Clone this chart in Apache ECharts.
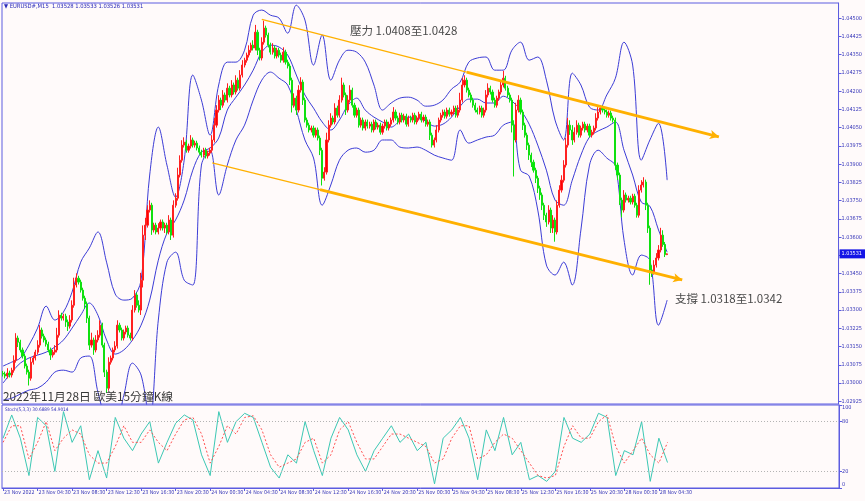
<!DOCTYPE html>
<html>
<head>
<meta charset="utf-8">
<script src="https://cdn.jsdelivr.net/npm/echarts@6/dist/echarts.min.js"></script>
<style>
html,body{margin:0;padding:0;background:#fffafa;}
#c{width:865px;height:501px;}
</style>
</head>
<body>
<div id="c"></div>
<script>
// ---------- DATA ----------
const tickLabels = ['23 Nov 2022','23 Nov 04:30','23 Nov 08:30','23 Nov 12:30','23 Nov 16:30','23 Nov 20:30',
  '24 Nov 00:30','24 Nov 04:30','24 Nov 08:30','24 Nov 12:30','24 Nov 16:30','24 Nov 20:30',
  '25 Nov 00:30','25 Nov 04:30','25 Nov 08:30','25 Nov 12:30','25 Nov 16:30','25 Nov 20:30',
  '28 Nov 00:30','28 Nov 04:30'];
const barsPerLabel = 16;
const slotCount = 388;

const priceTicks = [1.04500,1.04425,1.04350,1.04275,1.04200,1.04125,1.04050,1.03975,1.03900,1.03825,1.03750,
  1.03675,1.03600,1.03525,1.03450,1.03375,1.03300,1.03225,1.03150,1.03075,1.03000,1.02925];
const stochTicks = [0, 20, 80, 100];

const firstOpen = 1.03040;
const lastOpen = 1.03528;
const closes = [
1.03037,1.03029,1.03041,1.03033,1.03053,1.03094,1.03185,1.03168,1.03136,1.03111,
1.03070,1.03045,1.03020,1.03086,1.03103,1.03127,1.03156,1.03218,1.03193,1.03177,
1.03160,1.03136,1.03115,1.03127,1.03136,1.03197,1.03279,1.03267,1.03275,1.03251,
1.03234,1.03259,1.03320,1.03403,1.03431,1.03415,1.03382,1.03349,1.03325,1.03267,
1.03156,1.03177,1.03136,1.03177,1.03197,1.03238,1.03156,1.03045,1.02979,1.03086,
1.03103,1.03136,1.03152,1.03238,1.03218,1.03185,1.03210,1.03226,1.03197,1.03185,
1.03300,1.03362,1.03320,1.03300,1.03423,1.03608,1.03649,1.03711,1.03731,1.03629,
1.03649,1.03621,1.03637,1.03662,1.03637,1.03649,1.03621,1.03670,1.03608,1.03731,
1.03760,1.03855,1.03916,1.03978,1.03990,1.03957,1.03974,1.03999,1.03978,1.03986,
1.03966,1.03949,1.03937,1.03957,1.03933,1.03945,1.03957,1.03999,1.04060,1.04122,
1.04163,1.04142,1.04184,1.04163,1.04212,1.04184,1.04225,1.04196,1.04245,1.04212,
1.04266,1.04307,1.04327,1.04348,1.04368,1.04389,1.04377,1.04442,1.04368,1.04336,
1.04401,1.04459,1.04430,1.04389,1.04360,1.04377,1.04344,1.04368,1.04348,1.04327,
1.04360,1.04319,1.04303,1.04245,1.04142,1.04171,1.04122,1.04204,1.04237,1.04163,
1.04081,1.04060,1.04040,1.04048,1.04019,1.04040,1.04007,1.03957,1.03842,1.03867,
1.03999,1.04060,1.04089,1.04073,1.04130,1.04101,1.04163,1.04225,1.04184,1.04122,
1.04163,1.04204,1.04142,1.04101,1.04122,1.04060,1.04081,1.04048,1.04073,1.04056,
1.04064,1.04040,1.04073,1.04052,1.04060,1.04031,1.04056,1.04073,1.04048,1.04064,
1.04081,1.04114,1.04089,1.04073,1.04101,1.04081,1.04097,1.04064,1.04089,1.04081,
1.04101,1.04073,1.04089,1.04105,1.04081,1.04093,1.04064,1.04073,1.04019,1.03978,
1.03999,1.04040,1.04081,1.04101,1.04114,1.04097,1.04122,1.04105,1.04114,1.04130,
1.04101,1.04122,1.04163,1.04225,1.04245,1.04204,1.04184,1.04163,1.04142,1.04122,
1.04114,1.04130,1.04101,1.04122,1.04184,1.04212,1.04196,1.04163,1.04142,1.04171,
1.04196,1.04225,1.04253,1.04212,1.04184,1.04163,1.04060,1.03999,1.04122,1.04163,
1.04114,1.04060,1.04019,1.03978,1.03937,1.03908,1.03875,1.03842,1.03801,1.03773,
1.03731,1.03690,1.03662,1.03711,1.03637,1.03670,1.03621,1.03731,1.03793,1.03834,
1.03896,1.03978,1.04060,1.04040,1.03999,1.04031,1.04060,1.04019,1.04048,1.04064,
1.04040,1.04056,1.04019,1.04031,1.04048,1.04089,1.04114,1.04130,1.04122,1.04114,
1.04101,1.04110,1.04089,1.04081,1.03896,1.03855,1.03752,1.03711,1.03773,1.03752,
1.03760,1.03744,1.03768,1.03731,1.03690,1.03793,1.03814,1.03826,1.03731,1.03637,
1.03464,1.03456,1.03485,1.03514,1.03547,1.03608,1.03570,1.03528,1.03531];

// wick lengths in pips (0.0001)
const wickUp = [
1,1,2,1,1,2,2,1,1,1, 1,1,1,2,1,1,2,2,1,1, 1,1,1,1,2,3,2,1,1,1, 1,2,2,3,2,1,1,1,1,1,
1,3,1,2,2,2,1,1,1,2, 1,1,2,2,1,1,1,1,1,1, 2,2,1,2,3,4,3,2,2,1, 1,1,2,1,1,1,1,2,1,2,
2,3,2,2,2,1,1,2,1,1, 1,1,1,1,1,1,1,2,3,2, 2,1,2,1,2,1,2,1,2,1, 2,2,1,1,2,1,2,3,1,1,
2,3,1,1,1,2,1,1,1,1, 2,1,1,1,1,2,1,2,2,1, 1,1,1,1,1,1,1,1,1,2, 3,2,2,1,2,1,2,3,1,1,
2,2,1,1,1,1,1,1,1,1, 1,1,1,1,1,1,1,1,1,1, 1,2,1,1,1,1,1,1,1,1, 1,1,1,1,1,1,1,1,1,1,
1,2,1,1,1,1,1,1,1,1, 1,2,3,3,2,1,1,1,1,1, 1,1,1,1,2,2,1,1,1,1, 1,2,3,1,1,1,1,2,3,2,
1,1,1,1,1,1,1,1,1,1, 1,1,1,2,1,2,1,2,2,2, 2,3,3,2,2,2,2,1,1,1, 1,1,1,1,1,2,2,1,1,1,
1,1,1,1,1,1,1,1,2,1, 1,1,1,1,1,2,2,2,1,1, 1,2,2,2,2,3,2,1,0.2];
const wickDown = [
1,1,1,1,1,1,1,2,1,1, 1,1,3,1,1,1,1,1,1,1, 1,1,2,1,1,1,1,1,1,2, 2,1,1,1,1,1,1,1,2,2,
2,1,2,1,1,1,1,2,2,1, 1,1,1,1,1,1,1,1,1,1, 1,1,1,1,2,3,2,1,1,2, 1,1,1,1,1,2,1,1,2,1,
1,1,1,1,1,1,1,1,1,1, 1,1,1,1,1,1,1,1,1,1, 1,2,1,1,1,1,1,1,1,1, 1,1,1,1,1,1,1,1,2,1,
1,1,1,1,1,1,1,1,1,1, 1,1,1,2,3,1,2,1,1,2, 1,1,1,1,1,1,1,2,3,1, 1,1,1,1,1,1,1,1,1,2,
1,1,1,1,1,1,1,1,1,1, 1,1,1,1,1,1,1,1,1,1, 1,1,1,1,1,1,1,1,1,1, 1,1,1,1,1,1,1,1,2,1,
1,1,1,1,1,1,1,1,1,1, 1,1,1,1,1,1,1,1,1,1, 1,1,1,1,1,1,1,1,1,1, 1,1,1,1,1,1,3,15,1,1,
1,2,1,2,2,2,1,2,2,2, 2,2,2,1,2,2,4,1,1,1, 1,1,1,2,2,1,1,1,1,1, 1,1,1,1,1,1,1,1,1,1,
1,1,1,1,2,2,2,3,1,1, 1,1,1,1,1,1,1,1,2,2, 6,2,1,1,1,1,1,1,0.2];

// Bollinger bands, read every 4th bar
const bandStep = 4;
const bbUpper = [
1.03070,1.03086,1.03103,1.03156,1.03226,1.03316,1.03259,1.03292,1.03374,1.03497,
1.03555,1.03621,1.03497,1.03366,1.03341,1.03349,1.03423,1.03855,1.04052,1.03896,
1.03764,1.03916,1.04266,1.04163,1.04019,1.04225,1.04319,1.04319,1.04368,1.04512,
1.04533,1.04512,1.04500,1.04438,1.04553,1.04492,1.04307,1.04430,1.04245,1.04327,
1.04368,1.04360,1.04319,1.04225,1.04122,1.04151,1.04171,1.04175,1.04163,1.04138,
1.04142,1.04163,1.04208,1.04237,1.04319,1.04336,1.04340,1.04286,1.04286,1.04368,
1.04401,1.04327,1.04340,1.04245,1.04081,1.03999,1.04274,1.04225,1.04134,1.04122,
1.04184,1.04253,1.04401,1.04307,1.03916,1.03999,1.04068,1.03834];
const bbMiddle = [
1.03000,1.03045,1.03082,1.03103,1.03115,1.03127,1.03148,1.03177,1.03226,1.03279,
1.03329,1.03279,1.03177,1.03119,1.03136,1.03177,1.03238,1.03341,1.03505,1.03616,
1.03670,1.03752,1.03875,1.03949,1.03966,1.04007,1.04122,1.04175,1.04225,1.04286,
1.04360,1.04389,1.04381,1.04348,1.04266,1.04184,1.04130,1.04073,1.04040,1.04081,
1.04142,1.04171,1.04122,1.04093,1.04073,1.04052,1.04077,1.04093,1.04089,1.04077,
1.04056,1.04064,1.04093,1.04138,1.04167,1.04167,1.04151,1.04151,1.04179,1.04159,
1.04122,1.04064,1.03978,1.03875,1.03752,1.03731,1.03834,1.03937,1.04011,1.04036,
1.04052,1.04073,1.03957,1.03855,1.03744,1.03727,1.03629,1.03538];
const bbLower = [
1.02930,1.02938,1.02955,1.02971,1.02979,1.03004,1.03045,1.03053,1.03045,1.03103,
1.03111,1.02963,1.02848,1.02827,1.02950,1.03082,1.03033,1.02848,1.03259,1.03497,
1.03538,1.03423,1.03403,1.03896,1.03957,1.03773,1.03896,1.03999,1.04060,1.04163,
1.04245,1.04278,1.04253,1.04225,1.04122,1.03999,1.03925,1.03731,1.03814,1.03916,
1.03957,1.03966,1.03949,1.03957,1.03999,1.03999,1.03970,1.03966,1.03970,1.03957,
1.03937,1.03925,1.03916,1.04040,1.03986,1.03999,1.04011,1.04019,1.04060,1.04073,
1.03875,1.03851,1.03711,1.03485,1.03444,1.03497,1.03403,1.03629,1.03896,1.03957,
1.03925,1.03892,1.03588,1.03444,1.03526,1.03505,1.03238,1.03341];

// Stochastic (5,3,3), read every 4th bar
const stochStep = 4;
const stochMain = [
60,88,60,15,85,75,20,92,55,75, 10,45,12,85,60,45,65,80,30,55,
78,88,82,40,15,92,55,80,90,85, 55,25,12,40,30,80,45,15,60,85,
70,40,20,45,60,75,55,65,45,55, 5,60,70,85,60,10,70,45,85,40,
55,10,15,8,20,85,60,55,65,90, 85,15,45,40,80,8,60,30.6889];
const stochSignal = [
55,75,75,35,55,80,45,60,70,65, 40,30,30,50,75,55,55,70,55,45,
65,82,85,65,30,50,75,65,85,87, 70,40,25,30,35,55,60,30,40,70,
80,55,35,35,50,65,65,60,55,50, 30,35,60,75,75,35,40,55,65,60,
45,30,15,12,15,50,75,60,60,80, 88,50,30,45,60,40,30,54.9014];

// Trend lines drawn on the chart: [barIndex, price]
const resistThin = [[120, 1.04495], [215, 1.04278]];
const resistArrow = [[215, 1.04278], [332, 1.04012]];
const supportThin = [[97, 1.03905], [147, 1.03795]];
const supportArrow = [[147, 1.03795], [315, 1.03424]];

// ---------- BUILD ----------
const cats = [];
for (let i = 0; i < slotCount; i++) cats.push(String(i));
const candleData = closes.map((c, i) => {
  const o = i === 0 ? firstOpen : (i === closes.length - 1 ? lastOpen : closes[i - 1]);
  const hi = Math.max(o, c) + wickUp[i] * 0.0001;
  const lo = Math.min(o, c) - wickDown[i] * 0.0001;
  return [o, c, lo, hi];
});
const toPairs = (arr, step) => arr.map((v, k) => [k * step, v]);
const showTick = (idx) => idx % barsPerLabel === 0 && idx / barsPerLabel < tickLabels.length;

const BLUE = '#3c3cd6';
const AXISTXT = '#3434b8';
const ORANGE = '#ffb000';
const SMALLFONT = '"Liberation Sans Narrow", "DejaVu Sans Condensed", "Liberation Sans", sans-serif';
const CJK = '"Noto Sans CJK TC", sans-serif';
const lastClose = closes[closes.length - 1];

const option = {
  animation: false,
  backgroundColor: '#fffafa',
  grid: [
    {left: 2, right: 26, top: 3, height: 401, show: true, borderColor: '#5c5ce0', borderWidth: 1, backgroundColor: 'transparent'},
    {left: 2, right: 26, top: 405, height: 83, show: true, borderColor: '#5c5ce0', borderWidth: 1, backgroundColor: 'transparent'}
  ],
  xAxis: [
    {type: 'category', gridIndex: 0, data: cats, boundaryGap: true,
     axisLine: {show: false}, axisTick: {show: false}, axisLabel: {show: false}, splitLine: {show: false}},
    {type: 'category', gridIndex: 1, data: cats, boundaryGap: true,
     axisLine: {show: true, lineStyle: {color: '#5c5ce0'}},
     axisTick: {show: true, alignWithLabel: true, interval: (idx) => showTick(idx), length: 3, lineStyle: {color: '#5c5ce0'}},
     axisLabel: {show: true, interval: (idx) => showTick(idx), showMinLabel: true, hideOverlap: false,
       align: 'left', margin: 2, fontSize: 5.3, color: AXISTXT, fontFamily: SMALLFONT, padding: [0, 0, 0, 1],
       formatter: (v, idx) => { const k = Number(v); return showTick(k) ? tickLabels[k / barsPerLabel] : ''; }},
     splitLine: {show: false}}
  ],
  yAxis: [
    {type: 'value', gridIndex: 0, position: 'right', min: 1.02914, max: 1.04562, scale: true,
     axisLine: {show: true, lineStyle: {color: '#5c5ce0'}},
     axisTick: {show: true, length: 3, customValues: priceTicks, lineStyle: {color: '#5c5ce0'}},
     axisLabel: {show: true, customValues: priceTicks, margin: 3, fontSize: 5.5, color: AXISTXT,
       fontFamily: SMALLFONT, formatter: (v) => v.toFixed(5)},
     splitLine: {show: false}},
    {type: 'value', gridIndex: 1, position: 'right', min: 0, max: 100,
     axisLine: {show: true, lineStyle: {color: '#5c5ce0'}},
     axisTick: {show: true, length: 3, customValues: stochTicks, lineStyle: {color: '#5c5ce0'}},
     axisLabel: {show: true, customValues: stochTicks, margin: 3, fontSize: 5.5, color: AXISTXT, fontFamily: SMALLFONT,
       verticalAlignMaxLabel: 'top', verticalAlignMinLabel: 'bottom'},
     splitLine: {show: false}}
  ],
  series: [
    {type: 'line', xAxisIndex: 0, yAxisIndex: 0, data: toPairs(bbUpper, bandStep), smooth: 0.35, symbol: 'none',
     lineStyle: {color: BLUE, width: 1}, z: 3},
    {type: 'line', xAxisIndex: 0, yAxisIndex: 0, data: toPairs(bbMiddle, bandStep), smooth: 0.35, symbol: 'none',
     lineStyle: {color: BLUE, width: 1}, z: 3},
    {type: 'line', xAxisIndex: 0, yAxisIndex: 0, data: toPairs(bbLower, bandStep), smooth: 0.35, symbol: 'none',
     lineStyle: {color: BLUE, width: 1}, z: 3},
    {type: 'candlestick', xAxisIndex: 0, yAxisIndex: 0, data: candleData, barWidth: 1.6, z: 4,
     itemStyle: {color: '#ff0000', color0: '#00ee00', borderColor: '#ff2020', borderColor0: '#10e010', borderWidth: 1},
     markLine: {silent: true, animation: false, symbol: 'none', precision: 5,
       lineStyle: {color: 'rgba(0,0,0,0)', width: 1, opacity: 1},
       label: {show: true, position: 'end', distance: 1, formatter: lastClose.toFixed(5), color: '#ffffff',
         backgroundColor: '#1414e6', padding: [2, 3, 1, 2], fontSize: 5.5, fontFamily: SMALLFONT},
       data: [{yAxis: lastClose}]}},
    {type: 'line', xAxisIndex: 0, yAxisIndex: 0, data: resistThin, symbol: 'none',
     lineStyle: {color: ORANGE, width: 1.3}, z: 5},
    {type: 'line', xAxisIndex: 0, yAxisIndex: 0, data: supportThin, symbol: 'none',
     lineStyle: {color: ORANGE, width: 1.3}, z: 5},
    {type: 'line', xAxisIndex: 0, yAxisIndex: 0, data: [], z: 5,
     markLine: {silent: true, animation: false, symbol: ['none', 'arrow'], symbolSize: [7, 9],
       lineStyle: {color: ORANGE, width: 3, type: 'solid'}, label: {show: false},
       data: [
         [{coord: resistArrow[0]}, {coord: resistArrow[1]}],
         [{coord: supportArrow[0]}, {coord: supportArrow[1]}]
       ]}},
    {type: 'line', xAxisIndex: 1, yAxisIndex: 1, data: toPairs(stochMain, stochStep), symbol: 'none',
     lineStyle: {color: '#3cc8b4', width: 1}, z: 3,
     markLine: {silent: true, symbol: 'none', animation: false, label: {show: false},
       lineStyle: {color: '#b4b4b4', type: [1, 2], width: 1},
       data: [{yAxis: 80}, {yAxis: 20}]}},
    {type: 'line', xAxisIndex: 1, yAxisIndex: 1, data: toPairs(stochSignal, stochStep), symbol: 'none',
     lineStyle: {color: '#ff5050', width: 1, type: [2, 2]}, z: 3}
  ],
  graphic: [
    {type: 'text', left: 4, top: 3, style: {text: '\u25BC EURUSD#,M15  1.03528 1.03533 1.03526 1.03531',
      fontSize: 5.8, fill: '#2a2ab8', fontFamily: SMALLFONT}},
    {type: 'text', left: 5, top: 407, style: {text: 'Stoch(5,3,3) 30.6889 54.9014',
      fontSize: 4.7, fill: '#2a2ab8', fontFamily: SMALLFONT}},
    {type: 'text', left: 3, top: 391, z: 10, style: {text: '2022年11月28日 歐美15分鐘K線',
      fontSize: 11.8, fill: '#383838', fontFamily: CJK}},
    {type: 'text', left: 350, top: 25, z: 10, style: {text: '壓力 1.0408至1.0428',
      fontSize: 11.5, fill: '#4a4a4a', fontFamily: CJK}},
    {type: 'text', left: 675, top: 293, z: 10, style: {text: '支撐 1.0318至1.0342',
      fontSize: 11.5, fill: '#4a4a4a', fontFamily: CJK}}
  ]
};

const chart = echarts.init(document.getElementById('c'), null, {renderer: 'canvas'});
chart.setOption(option);
</script>
</body>
</html>
